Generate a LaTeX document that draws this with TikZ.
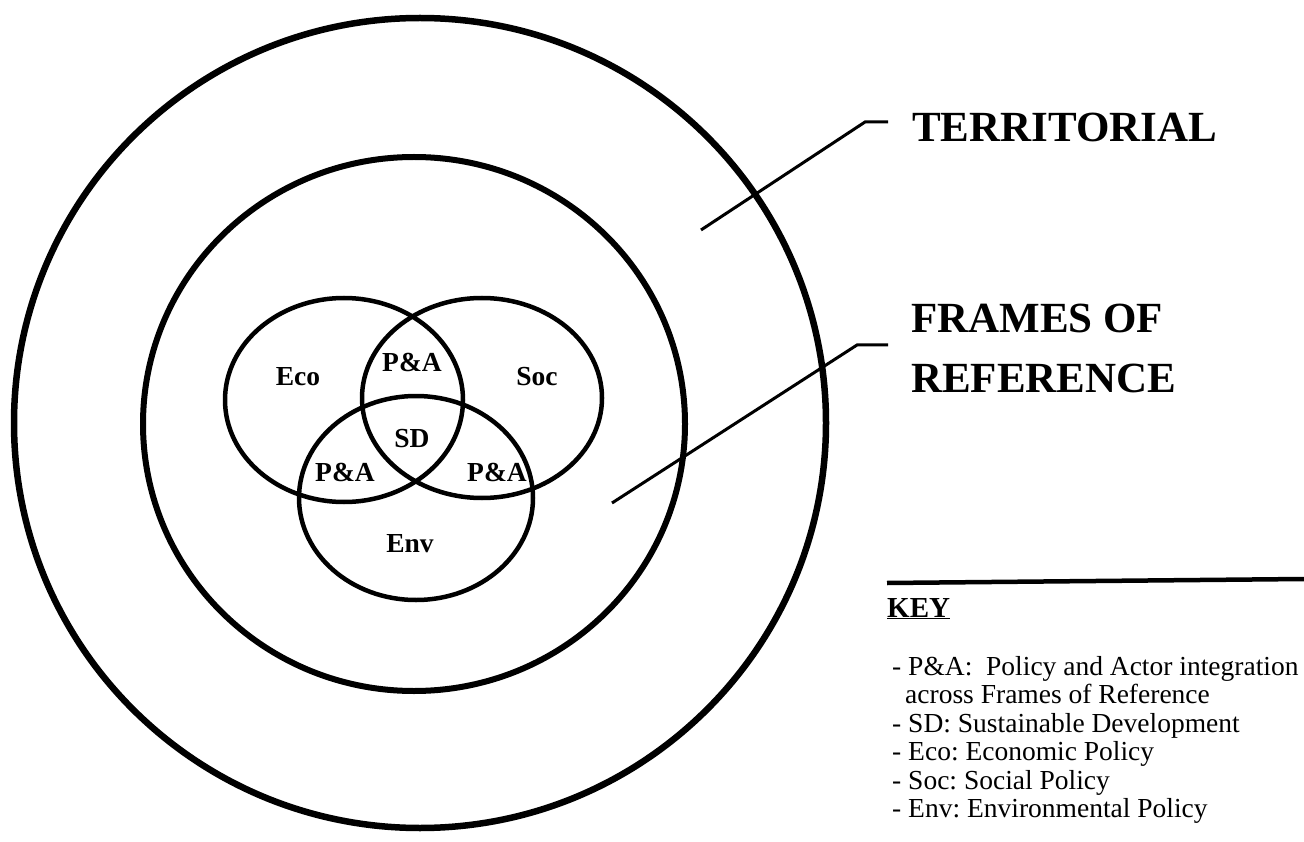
\documentclass[tikz,border=0pt]{standalone}
\usepackage{fontspec}
\setmainfont{Liberation Serif}
\begin{document}
\frenchspacing
\begin{tikzpicture}[x=1pt,y=-1pt,
  ring/.style={line width=6.5pt},
  midring/.style={line width=6pt},
  venn/.style={line width=4.5pt},
  leader/.style={line width=3pt, line join=miter},
  vlab/.style={inner sep=0pt, anchor=base, font=\bfseries\fontsize{27.5}{30}\selectfont},
  title/.style={inner sep=0pt, anchor=base west, font=\bfseries\fontsize{43}{50}\selectfont},
  keyitem/.style={inner sep=0pt, anchor=base west, font=\fontsize{27.5}{29}\selectfont}]
\useasboundingbox (0,0) rectangle (1304,842);
\fill[white] (0,0) rectangle (1304,842);
% rings
\draw[ring] (420,423) ellipse [x radius=406, y radius=405];
\draw[midring] (414,424) ellipse [x radius=271, y radius=267];
% venn
\draw[venn] (344,400) ellipse [x radius=119, y radius=102];
\draw[venn] (482,398) ellipse [x radius=120, y radius=100];
\draw[venn] (416,498) ellipse [x radius=117, y radius=102];
% venn labels
\node[vlab] (eco) at (298,385) {Eco};
\node[vlab] (pa1) at (412,371) {P\&A};
\node[vlab] (soc) at (537,385) {Soc};
\node[vlab] (sd) at (412,447) {SD};
\node[vlab] (pa2) at (345,481) {P\&A};
\node[vlab] (pa3) at (497,481) {P\&A};
\node[vlab] (env) at (410,552) {Env};
% titles
\node[title] (terr) at (912,142) {TERRITORIAL};
\node[title] (frames) at (911,333) {FRAMES OF};
\node[title] (refer) at (911,392) {REFERENCE};
% leaders
\coordinate (t0) at (888,122);
\coordinate (t1) at (865,122);
\coordinate (t2) at (701,230);
\coordinate (f0) at (888,345);
\coordinate (f1) at (857,345);
\coordinate (f2) at (612,503);
\draw[leader] (t0) -- (t1) -- (t2);
\draw[leader] (f0) -- (f1) -- (f2);
% key
\coordinate (r0) at (887,583);
\coordinate (r1) at (1304,579);
\draw[line width=4.5pt] (r0) -- (r1);
\node[inner sep=0pt, anchor=base west, font=\bfseries\fontsize{29}{32}\selectfont] (key) at (887,617) {\underline{KEY}};
\node[keyitem] (k1) at (892,675) {- P\&A:\ \ Policy and Actor integration};
\node[keyitem] (k2) at (905,703.5) {across Frames of Reference};
\node[keyitem] (k3) at (892,732) {- SD: Sustainable Development};
\node[keyitem] (k4) at (892,760.5) {- Eco: Economic Policy};
\node[keyitem] (k5) at (892,789) {- Soc: Social Policy};
\node[keyitem] (k6) at (892,817.5) {- Env: Environmental Policy};
\end{tikzpicture}
\end{document}
